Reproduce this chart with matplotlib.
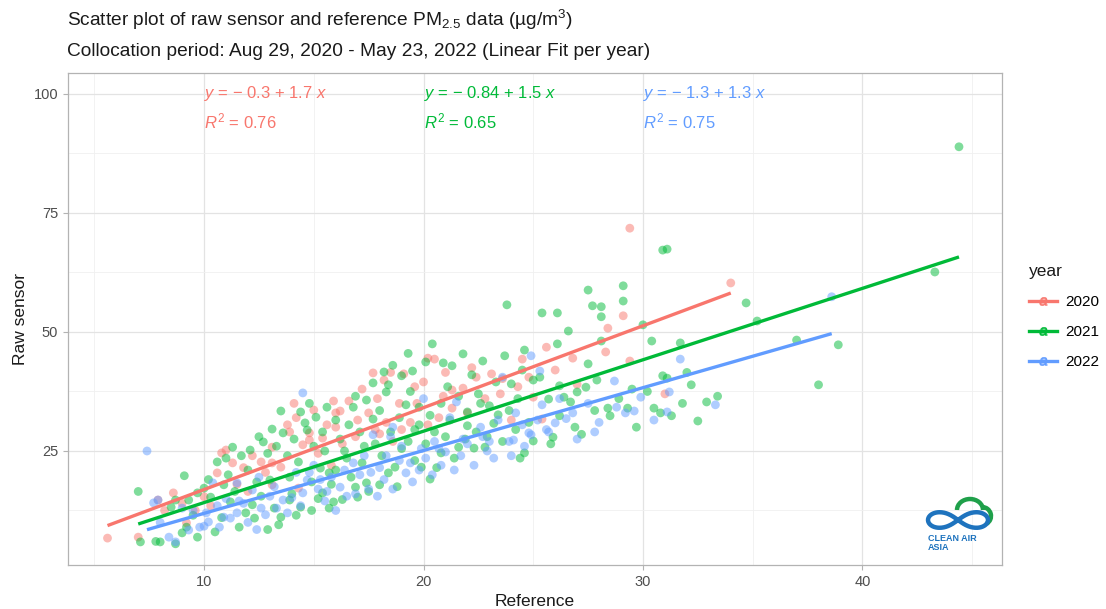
import matplotlib
matplotlib.use("Agg")
import matplotlib.pyplot as plt
from matplotlib.lines import Line2D
from matplotlib.legend_handler import HandlerTuple
from matplotlib.patches import Arc
import numpy as np

plt.rcParams['font.family'] = ['Liberation Sans', 'DejaVu Sans']
plt.rcParams['mathtext.fontset'] = 'custom'
plt.rcParams['mathtext.rm'] = 'Liberation Sans'
plt.rcParams['mathtext.it'] = 'Liberation Sans:italic'
plt.rcParams['mathtext.bf'] = 'Liberation Sans:bold'

# ---------------- data ----------------
years = ["2020", "2021", "2022"]
colors = ["#F8766D", "#00BA38", "#619CFF"]

ref_2020 = [5.6, 7.0, 7.9, 8.6, 9.2, 9.6, 10.0, 10.6, 10.8, 11.0, 11.5, 12.0, 12.6, 13.1, 13.5,
            13.1, 13.1, 13.9, 14.1, 14.2, 14.3, 14.5, 14.8, 14.8, 15.0, 15.4, 15.6, 16.0, 16.0,
            16.2, 16.6, 16.3, 17.2, 17.7, 18.0, 17.8, 18.2, 18.3, 18.9, 19.6, 19.7, 20.0, 20.2,
            20.5, 20.7, 21.3, 21.3, 21.8, 22.4, 23.1, 23.6, 24.0, 24.5, 25.0, 25.4, 25.6, 26.8,
            28.3, 28.4, 29.1, 29.4, 29.4, 31.0, 34.0,
            12.2, 15.2, 16.9, 17.5, 18.6, 19.0, 19.4, 20.2, 22.0, 22.8, 23.5, 21.0, 19.1, 18.5,
            24.3, 26.0, 27.0, 12.8, 11.8, 9.0, 8.2, 10.3, 15.8,
            11.3, 13.8, 15.9, 17.0, 17.9, 20.9, 22.2, 24.8]
raw_2020 = [6.7, 6.9, 14.7, 16.2, 9.9, 12.5, 15.4, 20.4, 24.6, 25.2, 18.0, 16.5, 22.7, 22.5, 21.6,
            25.8, 17.9, 29.0, 35.0, 32.0, 17.2, 26.3, 27.3, 28.8, 33.6, 27.7, 30.5, 33.0, 30.0,
            33.4, 35.5, 26.5, 38.0, 41.4, 28.6, 29.5, 39.9, 31.0, 35.0, 38.5, 35.0, 39.5, 44.5,
            44.3, 32.0, 37.8, 34.0, 38.2, 40.5, 41.2, 40.2, 31.5, 44.3, 36.3, 31.7, 46.8, 44.5,
            45.8, 50.8, 53.4, 43.9, 71.8, 37.0, 60.3,
            24.0, 24.5, 28.0, 33.0, 27.0, 29.5, 31.0, 30.5, 33.0, 36.0, 37.0, 41.5, 41.2, 41.5,
            38.5, 42.0, 39.0, 20.5, 21.5, 14.0, 12.5, 13.5, 22.0,
            22.5, 30.5, 35.5, 31.5, 36.0, 36.5, 42.5, 40.5]

ref_2021 = [7.0, 7.1, 8.0, 7.8, 8.7, 8.5, 8.7, 9.0, 9.1, 9.2, 9.3, 9.7, 9.7, 9.5, 10.0, 10.3,
            10.6, 10.9, 11.1, 11.2, 11.3, 11.6, 11.7, 12.0, 12.1, 12.2, 12.3, 12.4, 12.7, 12.9,
            13.0, 13.1, 13.2, 13.5, 13.5, 13.6, 13.9, 13.9, 14.3, 14.4, 14.4, 14.6, 14.7, 14.8,
            15.1, 15.3, 15.4, 15.6, 15.7, 15.9, 16.2, 16.6, 16.8, 16.9, 17.0, 17.1, 17.4, 17.4,
            17.7, 17.7, 18.0, 18.2, 18.3, 18.4, 18.4, 18.7, 19.0, 19.2, 19.5, 19.8, 19.9, 20.1,
            20.3, 20.4, 20.8, 20.9, 21.3, 21.6, 21.8, 22.0, 22.0, 22.2, 22.3, 22.6, 22.7, 22.8,
            23.0, 23.4, 23.8, 24.0, 24.2, 24.6, 24.6, 24.4, 25.0, 25.0, 25.3, 25.4, 25.7, 25.8,
            25.9, 26.1, 26.1, 26.2, 26.2, 26.4, 26.6, 26.7, 27.0, 27.4, 27.5, 27.5, 27.7, 27.9,
            28.1, 28.1, 28.1, 28.4, 28.5, 29.1, 29.1, 29.3, 29.5, 29.7, 30.0, 30.4, 30.5, 30.8,
            30.9, 31.1, 30.9, 31.1, 31.3, 31.7, 32.2, 32.5, 32.9, 34.7, 35.2, 37.0, 38.0, 38.9,
            43.3, 44.4,
            14.0, 14.9, 15.2, 15.5, 15.8, 16.0, 16.3, 16.5, 16.7, 17.2, 17.5, 17.8, 18.1, 18.5,
            18.8, 19.0, 19.3, 19.6, 19.8, 20.1, 20.5, 20.6, 21.0, 21.2, 21.4, 21.9, 22.4, 22.9,
            23.2, 23.6, 23.9, 24.3, 24.8, 21.6, 20.8, 19.4, 16.4, 15.0, 13.8, 12.6, 11.9, 11.4,
            10.8, 10.5, 12.9, 13.4, 14.2, 14.9, 15.7,
            26.9, 27.8, 28.9, 30.2, 31.8, 32.0, 33.4, 27.2,
            10.2, 11.0, 12.5, 13.3, 14.1, 15.4, 16.0, 16.9, 17.3, 18.0, 18.9, 19.6, 20.3, 21.1,
            22.5, 23.3, 23.7, 24.5, 18.6, 19.3]
raw_2021 = [16.5, 5.9, 5.9, 6.0, 5.5, 13.2, 14.7, 7.8, 19.8, 9.0, 14.7, 6.9, 16.2, 11.5, 17.2, 15.3,
            22.7, 17.9, 20.0, 14.3, 25.8, 9.0, 24.0, 21.0, 25.2, 13.7, 10.9, 18.5, 26.9, 24.5,
            18.9, 29.6, 13.0, 33.4, 11.1, 28.8, 19.5, 14.7, 22.7, 13.2, 33.2, 30.9, 29.4, 35.0,
            32.1, 21.4, 16.2, 34.2, 20.4, 14.3, 27.5, 30.5, 34.2, 17.4, 15.3, 29.0, 35.7, 18.3,
            39.3, 31.7, 17.9, 41.6, 37.4, 38.9, 20.4, 21.6, 40.8, 34.7, 41.8, 34.2, 21.6, 43.7,
            19.1, 47.5, 24.6, 43.5, 42.9, 25.8, 45.4, 33.2, 30.3, 41.0, 25.6, 35.0, 43.9, 25.8,
            34.5, 32.6, 55.7, 39.1, 29.5, 46.2, 24.6, 23.5, 39.9, 27.1, 40.5, 54.0, 35.9, 26.5,
            27.9, 54.0, 47.5, 38.7, 32.4, 36.3, 50.2, 35.3, 37.4, 38.4, 58.8, 43.3, 55.5, 39.9,
            55.3, 53.2, 48.1, 34.0, 32.4, 59.7, 56.5, 34.0, 38.0, 30.0, 51.5, 48.1, 34.0, 33.0,
            67.2, 67.4, 40.8, 40.3, 32.4, 47.7, 38.9, 31.3, 35.3, 56.1, 52.3, 48.3, 38.9, 47.3,
            62.6, 88.9,
            16.0, 18.5, 15.0, 25.0, 18.0, 21.0, 14.8, 23.5, 19.5, 22.5, 16.5, 26.5, 24.0, 29.0,
            17.5, 25.5, 27.0, 23.0, 30.5, 26.5, 29.0, 21.5, 28.0, 31.5, 23.5, 27.5, 29.0, 28.0,
            30.8, 27.0, 33.5, 36.0, 31.0, 36.5, 35.0, 37.5, 25.0, 26.0, 24.0, 15.5, 12.0, 16.5,
            11.0, 8.0, 8.5, 9.5, 11.5, 12.5, 13.0,
            30.0, 33.5, 36.0, 37.5, 35.0, 41.5, 36.5, 28.5,
            19.0, 23.5, 28.0, 26.0, 27.5, 29.0, 31.5, 36.5, 26.0, 33.5, 32.0, 29.5, 32.5, 38.5,
            37.0, 39.5, 45.0, 42.0, 43.0, 45.5]

ref_2022 = [7.4, 7.7, 7.9, 8.4, 8.7, 9.3, 9.8, 10.0, 10.2, 10.4, 10.7, 10.9, 11.2, 11.5, 11.5,
            12.0, 12.5, 12.8, 13.0, 13.3, 13.6, 14.0, 14.5, 14.5, 14.7, 14.8, 15.2, 15.5, 15.8,
            16.2, 16.5, 16.8, 17.1, 17.5, 17.7, 18.0, 18.2, 18.5, 18.6, 18.9, 19.2, 19.5, 19.9,
            20.0, 20.1, 20.5, 20.8, 21.0, 21.2, 21.5, 21.8, 22.3, 22.6, 22.9, 23.2, 23.6, 23.9,
            24.1, 24.2, 24.5, 24.8, 24.9, 24.9, 25.3, 25.4, 25.6, 25.7, 26.0, 26.5, 27.0, 27.5,
            28.0, 28.7, 28.8, 29.2, 29.6, 29.9, 30.5, 31.1, 31.2, 31.7, 33.3, 38.6,
            10.6, 11.0, 11.8, 12.2, 12.6, 13.8, 14.2, 15.0, 15.6, 16.0, 16.9, 17.3, 17.9, 18.6,
            19.0, 19.8, 20.4, 21.4, 22.0, 22.7, 23.4, 24.0, 26.2, 27.8, 12.4, 9.5, 8.0, 9.0,
            13.2, 14.4, 15.3, 16.4, 17.6, 18.3, 19.4, 20.7, 21.7, 23.0, 24.6, 25.2, 26.8, 11.6,
            10.1]
raw_2022 = [25.0, 14.1, 14.7, 6.9, 5.9, 8.4, 9.0, 9.2, 10.1, 18.3, 9.0, 11.1, 10.9, 12.0, 18.3,
            10.0, 19.5, 11.6, 15.5, 13.0, 14.7, 15.2, 16.2, 37.2, 18.9, 20.5, 17.0, 14.5, 19.5,
            17.4, 15.5, 22.5, 20.0, 17.0, 28.4, 21.5, 19.0, 28.0, 30.0, 23.0, 20.4, 18.5, 25.5,
            36.0, 23.5, 27.0, 22.0, 24.8, 32.0, 35.3, 27.5, 22.0, 30.0, 25.0, 23.5, 40.5, 27.0,
            27.3, 33.0, 30.5, 28.8, 28.4, 45.0, 41.8, 34.7, 29.5, 29.0, 30.9, 31.8, 27.5, 35.0,
            31.0, 39.7, 34.2, 33.0, 33.4, 36.3, 31.5, 33.2, 37.4, 44.3, 34.7, 57.4,
            13.5, 15.0, 14.0, 16.8, 13.0, 12.0, 20.5, 22.0, 16.5, 12.5, 16.0, 24.0, 15.5, 17.0,
            26.0, 21.0, 20.0, 21.0, 26.5, 28.0, 31.5, 24.0, 36.0, 29.0, 8.5, 12.5, 10.0, 13.0,
            17.5, 13.5, 19.0, 21.0, 20.5, 24.0, 22.5, 25.5, 24.0, 27.0, 26.0, 31.5, 33.0, 14.5,
            12.0]

# linear fit coefficients per year (intercept, slope) and R^2
fit_intercept = [-0.3, -0.84, -1.3]
fit_slope = [1.72, 1.5, 1.32]
eq_labels = [r"$y$ = − 0.3 + 1.7 $x$", r"$y$ = − 0.84 + 1.5 $x$", r"$y$ = − 1.3 + 1.3 $x$"]
r2_labels = [r"$R^2$ = 0.76", r"$R^2$ = 0.65", r"$R^2$ = 0.75"]
label_x = [10, 20, 30]

xs = [ref_2020, ref_2021, ref_2022]
ys = [raw_2020, raw_2021, raw_2022]

# ---------------- figure ----------------
W, H = 1106, 609
fig = plt.figure(figsize=(W / 100, H / 100), dpi=100)
L, R, T, B = 68, 1002, 73, 565
ax = fig.add_axes([L / W, 1 - B / H, (R - L) / W, (B - T) / H])

ax.set_xlim(3.80, 46.36)
ax.set_ylim(1.05, 104.4)
ax.set_xticks([10, 20, 30, 40])
ax.set_yticks([25, 50, 75, 100])
ax.set_xticks([5, 15, 25, 35, 45], minor=True)
ax.set_yticks([12.5, 37.5, 62.5, 87.5], minor=True)
ax.grid(which='major', color='#E3E3E3', lw=0.9)
ax.grid(which='minor', color='#F0F0F0', lw=0.6)
ax.set_axisbelow(True)
for s in ax.spines.values():
    s.set_color('#B3B3B3')
    s.set_linewidth(0.9)
ax.tick_params(which='major', length=3.5, color='#B3B3B3', labelcolor='#4D4D4D', labelsize=10.5)
ax.tick_params(which='minor', length=0)

for x, y, c in zip(xs, ys, colors):
    ax.scatter(x, y, s=40, color=c, alpha=0.5, edgecolors='none', zorder=2)

for x, b, m, c in zip(xs, fit_intercept, fit_slope, colors):
    xx = np.array([min(x), max(x)])
    ax.plot(xx, b + m * xx, color=c, lw=2.4, zorder=3, solid_capstyle='butt')

for lx, eq, r2, c in zip(label_x, eq_labels, r2_labels, colors):
    ax.text(lx, 100, eq, color=c, fontsize=12, ha='left', va='center', zorder=4)
    ax.text(lx, 94.3, r2, color=c, fontsize=12, ha='left', va='center', zorder=4)

ax.set_xlabel("Reference", fontsize=12.5, color='#1A1A1A', labelpad=4)
ax.set_ylabel("Raw sensor", fontsize=12.5, color='#1A1A1A', labelpad=4)

fig.text(67 / W, 1 - 20 / H, r"Scatter plot of raw sensor and reference PM$_{2.5}$ data (µg/m$^{3}$)",
         fontsize=13.8, ha='left', va='center', color='#1A1A1A')
fig.text(67 / W, 1 - 51 / H, "Collocation period: Aug 29, 2020 - May 23, 2022 (Linear Fit per year)",
         fontsize=13.8, ha='left', va='center', color='#1A1A1A')

# legend
handles = []
for c in colors:
    ln = Line2D([], [], color=c, lw=2.4)
    pt = Line2D([], [], color=c, marker='o', ls='none', markersize=6, alpha=0.5, markeredgewidth=0)
    tx = Line2D([], [], color=c, marker='$a$', ls='none', markersize=6, markeredgewidth=0.3)
    handles.append((ln, pt, tx))
leg = fig.legend(handles, years, handler_map={tuple: HandlerTuple(ndivide=1)},
                 loc='upper left', bbox_to_anchor=(1029 / W, 1 - 264 / H), frameon=False,
                 borderpad=0, borderaxespad=0,
                 title="year", title_fontsize=12.5, fontsize=11, labelspacing=1.05,
                 handlelength=1.8, handletextpad=0.6, alignment='left')
leg.get_title().set_color('#1A1A1A')

# Clean Air Asia logo (drawn)
lax = fig.add_axes([918 / W, 1 - 560 / H, 80 / W, 66 / H])
lax.set_xlim(0, 80)
lax.set_ylim(0, 66)
lax.axis('off')
lax.add_patch(Arc((52, 50), 26, 22, theta1=0, theta2=180, color='#1FA04A', lw=3.2))
lax.add_patch(Arc((64, 44), 18, 18, theta1=-60, theta2=90, color='#1FA04A', lw=3.2))
t = np.linspace(0, 2 * np.pi, 200)
bx = 40 + 30 * np.sin(t) / (1 + np.cos(t) ** 2)
by = 40 + 22 * np.sin(t) * np.cos(t) / (1 + np.cos(t) ** 2)
lax.plot(bx, by, color='#1E73BE', lw=3.2, solid_capstyle='round')
lax.text(10, 17, "CLEAN AIR\nASIA", color='#1E73BE', fontsize=6.5, fontweight='bold',
         ha='left', va='center', linespacing=0.95)

fig.savefig("out.png", dpi=100)
